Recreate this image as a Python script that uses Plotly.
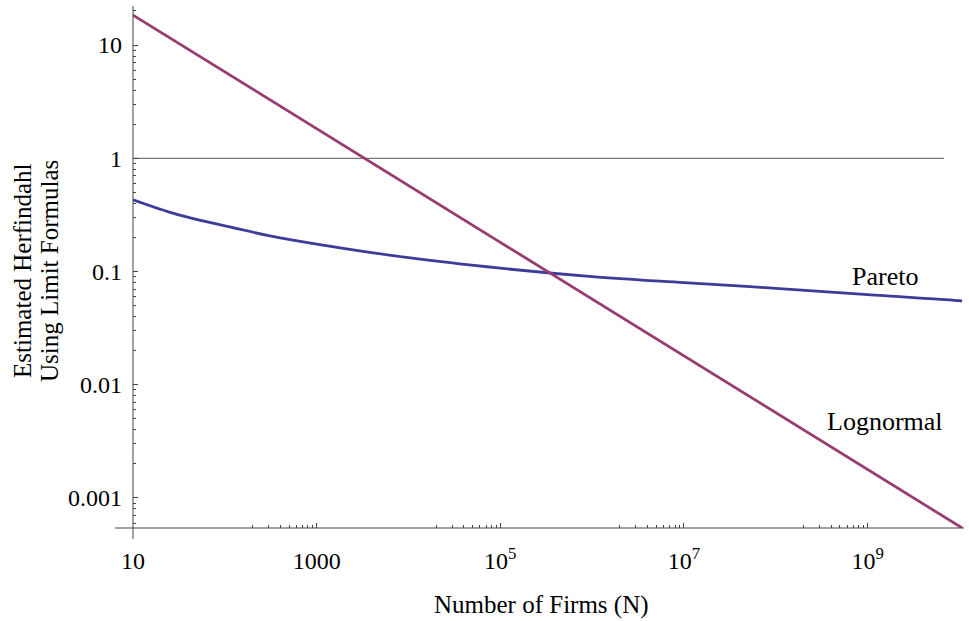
import math
import plotly.graph_objects as go

# ---- data ----
firms_n = [10, 30, 100, 300, 1e3, 1e4, 1e5, 1e6, 1e7, 1e8, 1e9, 1e10, 1.07e10]
pareto_h = [0.43, 0.32, 0.253, 0.208, 0.175, 0.1325, 0.107, 0.0903, 0.0798, 0.0711, 0.0625, 0.0553, 0.0549]

lognormal_n = [10, 100, 1e3, 1e4, 1e5, 1e6, 1e7, 1e8, 1e9, 1e10, 1.07e10]
lognormal_h = [18.4, 5.80, 1.829, 0.576, 0.1814, 0.0572, 0.0180, 0.00567, 0.00179, 0.000563, 0.000544]

ref_n = [10, 6.8e9]
ref_h = [1, 1]

x_tickvals = [10, 1000, 1e5, 1e7, 1e9]
x_ticktext = ["10", "1000", "10<sup>5</sup>", "10<sup>7</sup>", "10<sup>9</sup>"]
y_tickvals = [0.001, 0.01, 0.1, 1, 10]
y_ticktext = ["0.001", "0.01", "0.1", "1", "10"]

x_minor = [k * 10 ** e for e in (2, 4, 6, 8) for k in range(2, 10)]
y_minor = [k * 10 ** e for e in (-4, -3, -2, -1, 0, 1) for k in range(2, 10)]

PARETO_COLOR = "rgb(61,61,153)"
LOGN_COLOR = "rgb(153,61,113)"
AXIS_COLOR = "#444444"
FONT = "Liberation Serif, Times New Roman, serif"

fig = go.Figure()
fig.add_trace(go.Scatter(x=ref_n, y=ref_h, mode="lines",
                         line=dict(color="#555555", width=1), hoverinfo="skip"))
fig.add_trace(go.Scatter(x=firms_n, y=pareto_h, mode="lines", name="Pareto",
                         line=dict(color=PARETO_COLOR, width=2.8, shape="spline", smoothing=1)))
fig.add_trace(go.Scatter(x=lognormal_n, y=lognormal_h, mode="lines", name="Lognormal",
                         line=dict(color=LOGN_COLOR, width=2.8)))

L, R, T, B = 133, 5, 6, 93
W, H = 969, 621
pw = W - L - R
ph = H - T - B

fig.update_layout(
    width=W, height=H,
    margin=dict(l=L, r=R, t=T, b=B, pad=0, autoexpand=False),
    paper_bgcolor="white", plot_bgcolor="white",
    showlegend=False,
    font=dict(family=FONT, size=24, color="black"),
    xaxis=dict(
        type="log", range=[1, 10.05], automargin=False,
        tickmode="array", tickvals=x_tickvals, ticktext=x_ticktext,
        ticks="inside", ticklen=5, tickwidth=1, tickcolor=AXIS_COLOR,
        showgrid=False, zeroline=False, showline=False,
        ticklabelstandoff=16,
        tickfont=dict(family=FONT, size=24, color="black"),
        minor=dict(tickmode="array", tickvals=x_minor, ticks="inside",
                   ticklen=3, tickwidth=1, tickcolor=AXIS_COLOR, showgrid=False),
    ),
    yaxis=dict(
        type="log", range=[-3.265, 1.345], automargin=False,
        tickmode="array", tickvals=y_tickvals, ticktext=y_ticktext,
        ticks="inside", ticklen=5, tickwidth=1, tickcolor=AXIS_COLOR,
        showgrid=False, zeroline=False, showline=False,
        ticklabelstandoff=10,
        tickfont=dict(family=FONT, size=24, color="black"),
        minor=dict(tickmode="array", tickvals=y_minor, ticks="inside",
                   ticklen=3, tickwidth=1, tickcolor=AXIS_COLOR, showgrid=False),
    ),
    shapes=[
        dict(type="line", xref="paper", yref="paper",
             x0=-18 / pw, x1=1, y0=0, y1=0,
             line=dict(color=AXIS_COLOR, width=1)),
        dict(type="line", xref="paper", yref="paper",
             x0=0, x1=0, y0=-11 / ph, y1=1,
             line=dict(color=AXIS_COLOR, width=1)),
    ],
    annotations=[
        dict(text="Number of Firms (N)", xref="paper", yref="paper",
             x=(541 - L) / pw, y=0, yshift=-(605 - (H - B)),
             xanchor="center", yanchor="middle", showarrow=False,
             font=dict(family=FONT, size=25, color="black")),
        dict(text="Estimated Herfindahl", xref="paper", yref="paper",
             x=0, xshift=22 - L, y=(H - B - 271) / ph,
             textangle=-90, xanchor="center", yanchor="middle", showarrow=False,
             font=dict(family=FONT, size=25, color="black")),
        dict(text="Using Limit Formulas", xref="paper", yref="paper",
             x=0, xshift=49 - L, y=(H - B - 271) / ph,
             textangle=-90, xanchor="center", yanchor="middle", showarrow=False,
             font=dict(family=FONT, size=25, color="black")),
        dict(text="Pareto", xref="x", yref="y",
             x=math.log10(1.55e9), y=math.log10(0.0903),
             xanchor="center", yanchor="middle", showarrow=False,
             font=dict(family=FONT, size=26, color="black")),
        dict(text="Lognormal", xref="x", yref="y",
             x=math.log10(1.55e9), y=math.log10(0.0047),
             xanchor="center", yanchor="middle", showarrow=False,
             font=dict(family=FONT, size=26, color="black")),
    ],
)

fig.write_html("out.html", config={"displayModeBar": False},
               post_script="document.body.style.margin='0';document.body.style.overflow='hidden';")
